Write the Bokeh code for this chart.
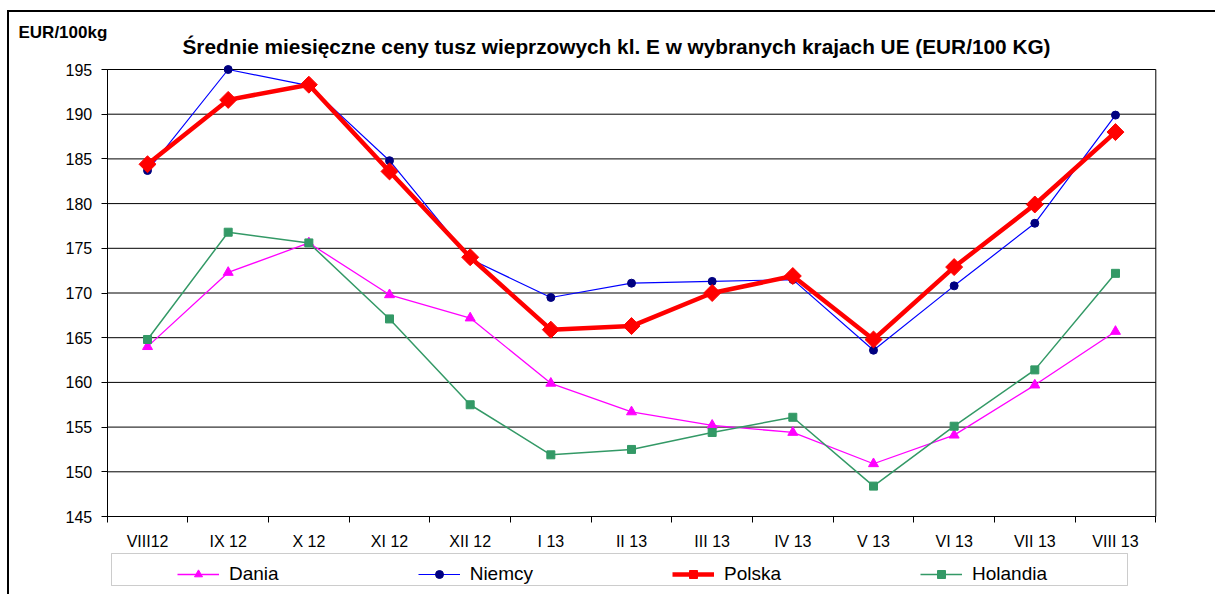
import numpy as np
from bokeh.plotting import figure
from bokeh.models import (Range1d, FixedTicker, Legend, LegendItem, Label, BoxAnnotation)
from bokeh.embed import file_html
from bokeh.resources import INLINE

months = ["VIII12", "IX 12", "X 12", "XI 12", "XII 12", "I 13", "II 13",
          "III 13", "IV 13", "V 13", "VI 13", "VII 13", "VIII 13"]
dania = [164.0, 172.3, 175.6, 169.8, 167.2, 159.9, 156.7, 155.2, 154.4, 150.9, 154.1, 159.7, 165.7]
niemcy = [183.7, 195.0, 193.2, 184.8, 173.8, 169.5, 171.1, 171.3, 171.5, 163.6, 170.8, 177.8, 189.9]
polska = [184.4, 191.6, 193.3, 183.6, 174.0, 165.9, 166.3, 170.0, 171.9, 164.8, 172.9, 179.9, 188.0]
holandia = [164.8, 176.8, 175.6, 167.1, 157.5, 151.9, 152.5, 154.4, 156.1, 148.4, 155.1, 161.4, 172.2]
y_ticks = [145, 150, 155, 160, 165, 170, 175, 180, 185, 190, 195]

title_text = "Średnie miesięczne ceny tusz wieprzowych kl. E w wybranych krajach UE (EUR/100 KG)"
unit_text = "EUR/100kg"

FONT = "Liberation Sans"
xs = np.arange(len(months))

# canvas geometry (pixels); the frame covers the whole canvas
W, H = 1208, 584
PA_L, PA_R, PA_T, PA_B = 97.7, 1146.3, 57.0, 504.0   # plot area inside canvas
n = len(months)
x_lo, x_hi = -0.5, n - 0.5
y_lo, y_hi = y_ticks[0], y_ticks[-1]
xpx = (PA_R - PA_L) / (x_hi - x_lo)
ypx = (PA_B - PA_T) / (y_hi - y_lo)
x_range = Range1d(x_lo - PA_L / xpx, x_hi + (W - PA_R) / xpx)
y_range = Range1d(y_lo - (H - PA_B) / ypx, y_hi + PA_T / ypx)

p = figure(width=W, height=H, output_backend="svg", toolbar_location=None,
           x_range=x_range, y_range=y_range, min_border=0)
p.styles = {"margin-left": "7px", "margin-top": "10px",
            "border-left": "2px solid black", "border-top": "2px solid black"}
p.background_fill_color = "white"
p.border_fill_color = "white"
p.outline_line_color = None
p.xgrid.visible = False
p.ygrid.visible = False

# horizontal grid lines and right edge of the plot area, bounded to the plot area
p.segment(x0=[x_lo] * len(y_ticks), x1=[x_hi] * len(y_ticks), y0=y_ticks, y1=y_ticks,
          line_color="black", line_width=1)
p.segment(x0=[x_hi], x1=[x_hi], y0=[y_lo], y1=[y_hi], line_color="black", line_width=1)

# axes
p.xaxis.fixed_location = y_lo
p.xaxis.bounds = (x_lo, x_hi)
p.xaxis.ticker = FixedTicker(ticks=list(xs), minor_ticks=[i - 0.5 for i in range(n + 1)])
p.xaxis.major_label_overrides = {int(i): m for i, m in zip(xs, months)}
p.xaxis.major_tick_out = 0
p.xaxis.major_tick_in = 0
p.xaxis.minor_tick_out = 6
p.xaxis.minor_tick_in = 0
p.xaxis.minor_tick_line_color = "black"
p.xaxis.major_label_standoff = 10
p.xaxis.major_label_text_font = FONT
p.xaxis.major_label_text_font_size = "16px"
p.xaxis.major_label_text_color = "black"
p.xaxis.axis_line_color = "black"

p.yaxis.fixed_location = x_lo
p.yaxis.bounds = (y_lo, y_hi)
p.yaxis.ticker = FixedTicker(ticks=y_ticks, minor_ticks=[])
p.yaxis.major_tick_out = 6
p.yaxis.major_tick_in = 0
p.yaxis.major_tick_line_color = "black"
p.yaxis.major_label_standoff = 9
p.yaxis.major_label_text_font = FONT
p.yaxis.major_label_text_font_size = "16px"
p.yaxis.major_label_text_color = "black"
p.yaxis.axis_line_color = "black"

# series
r_d = p.line(xs, dania, line_color="#FF00FF", line_width=1.3)
m_d = p.scatter(xs, dania, marker="triangle", size=10, fill_color="#FF00FF", line_color="#FF00FF")
r_n = p.line(xs, niemcy, line_color="#0000FF", line_width=1.2)
m_n = p.scatter(xs, niemcy, marker="circle", size=8, fill_color="#000080", line_color="#000080")
r_h = p.line(xs, holandia, line_color="#339966", line_width=1.5)
m_h = p.scatter(xs, holandia, marker="square", size=8, fill_color="#339966", line_color="#339966")
r_p = p.line(xs, polska, line_color="#FF0000", line_width=4.5)
m_p = p.scatter(xs, polska, marker="square", angle=np.pi / 4, size=12, fill_color="#FF0000", line_color="#FF0000")

# legend frame (screen units are relative to the frame's bottom-left corner)
box = BoxAnnotation(left=102, right=1118, bottom=11, top=43,
                    left_units="screen", right_units="screen", bottom_units="screen", top_units="screen",
                    fill_color="white", fill_alpha=1, line_color="#555555", line_width=1)
p.add_layout(box)

legend = Legend(items=[LegendItem(label="Dania", renderers=[r_d, m_d]),
                       LegendItem(label="Niemcy", renderers=[r_n, m_n]),
                       LegendItem(label="Polska", renderers=[r_p, m_p]),
                       LegendItem(label="Holandia", renderers=[r_h, m_h])],
                orientation="horizontal", location=(168, 11), margin=0,
                spacing=139, padding=6, glyph_width=42, glyph_height=20, label_height=20,
                label_standoff=10, label_text_font=FONT, label_text_font_size="19px",
                label_text_color="black",
                border_line_color=None, background_fill_alpha=0)
p.add_layout(legend, "center")

p.add_layout(Label(x=607, y=550, x_units="screen", y_units="screen", text=title_text,
                   text_align="center", text_baseline="middle", text_font=FONT,
                   text_font_size="20.8px", text_font_style="bold", text_color="black"))
p.add_layout(Label(x=9, y=564, x_units="screen", y_units="screen", text=unit_text,
                   text_align="left", text_baseline="middle", text_font=FONT,
                   text_font_size="17px", text_font_style="bold", text_color="black"))

open("out.html", "w").write(file_html(p, INLINE))
